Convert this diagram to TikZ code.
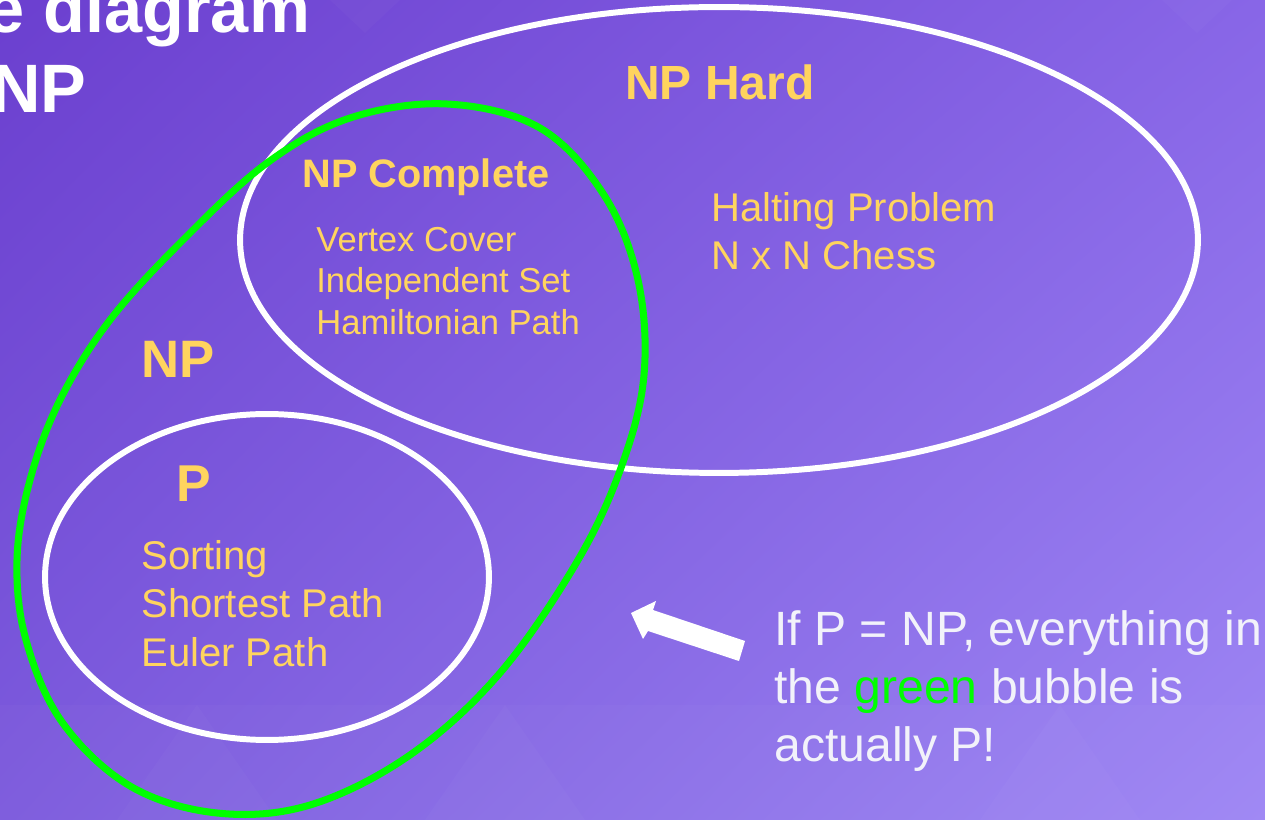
\documentclass[tikz,border=0pt]{standalone}
\usepackage{fontspec}
\setmainfont{Liberation Sans}
\usetikzlibrary{shadings}
\definecolor{fondhg}{HTML}{6B3FCF}
\definecolor{fondhd}{HTML}{8866E7}
\definecolor{fondbg}{HTML}{7C5BDD}
\definecolor{fondbd}{HTML}{9E87F4}
\definecolor{jaune}{HTML}{FFD45E}
\definecolor{vertvif}{HTML}{00FF00}
\definecolor{blanccasse}{HTML}{F2F2FA}
\tikzset{
  bord/.style={draw=white, line width=3.4pt},
  bordvert/.style={draw=vertvif, line width=4pt},
  etiq/.style={anchor=base west, inner sep=0pt, text=jaune},
  titre/.style={anchor=base west, inner sep=0pt, text=white, font=\bfseries\fontsize{39}{45}\selectfont},
  note/.style={anchor=base west, inner sep=0pt, text=blanccasse, font=\fontsize{27.4}{32}\selectfont},
  petit/.style={font=\fontsize{19.7}{23}\selectfont},
  moyen/.style={font=\fontsize{22.8}{27}\selectfont},
  gras/.style={font=\bfseries\fontsize{#1}{#1}\selectfont}
}
\begin{document}
\begin{tikzpicture}[x=0.02cm, y=-0.02cm]
    % fond
    \useasboundingbox (0,0) rectangle (1265,820);
    \clip (0,0) rectangle (1265,820);
    \shade[upper left=fondhg, upper right=fondhd, lower left=fondbg, lower right=fondbd] (0,0) rectangle (1265,820);
    \fill[white, opacity=0.025] (0,705) rectangle (1265,820);
    \foreach \p in {197, 505, 1060}
        \fill[white, opacity=0.025] (\p,705) -- (\p-80,820) -- (\p+80,820) -- cycle;
    \foreach \p in {365, 1197}
        \fill[white, opacity=0.025] (\p,33) -- (\p-35,0) -- (\p+35,0) -- cycle;

    % titre
    \node[titre] (titre1) at (-14,33) {e diagram};
    \node[titre] (titre2) at (-9,113) {NP};

    % NP Hard
    \draw[bord] (719,240) ellipse [x radius=9.58cm, y radius=4.66cm];
    \node[etiq, gras=27.3] (nphard) at (625,100) {NP Hard};
    \foreach \t/\y [count=\i] in {Halting Problem/222, N x N Chess/270}
        \node[etiq, moyen] (nph\i) at (711,\y) {\t};

    % NP Complete
    \node[etiq, gras=22.6] (npcomplete) at (302,188) {NP Complete};
    \foreach \t/\y [count=\i] in {Vertex Cover/252, Independent Set/293, Hamiltonian Path/335}
        \node[etiq, petit] (npc\i) at (316,\y) {\t};

    % P
    \draw[bord] (267,577) ellipse [x radius=4.44cm, y radius=3.26cm];
    \node[etiq, gras=29.5] (p) at (176,502) {P};
    \foreach \t/\y [count=\i] in {Sorting/570, Shortest Path/618, Euler Path/666}
        \node[etiq, moyen] (pp\i) at (141,\y) {\t};

    % NP (bulle verte)
    \draw[bordvert] plot[smooth cycle, tension=0.6] coordinates {
        (447,104) (540,128) (604,195) (638,280) (644,375) (622,465) (578,560)
        (500,673) (410,755) (310,805) (217,813) (130,786) (62,722) (26,640)
        (17,560) (30,480) (60,400) (110,320) (183,240) (267,163) (350,118)};
    \node[etiq, gras=30] (np) at (141,378) {NP};

    % fleche
    \fill[white] (631,613) -- (656,601) -- (653,610) -- (745,641) -- (739,661) -- (648,631) -- (643,639) -- cycle;

    % remarque
    \node[note] (rem1) at (774,646) {If P = NP, everything in};
    \node[note] (rem2) at (774,704) {the \textcolor{vertvif}{green} bubble is};
    \node[note] (rem3) at (774,762) {actually P!};
\end{tikzpicture}
\end{document}
